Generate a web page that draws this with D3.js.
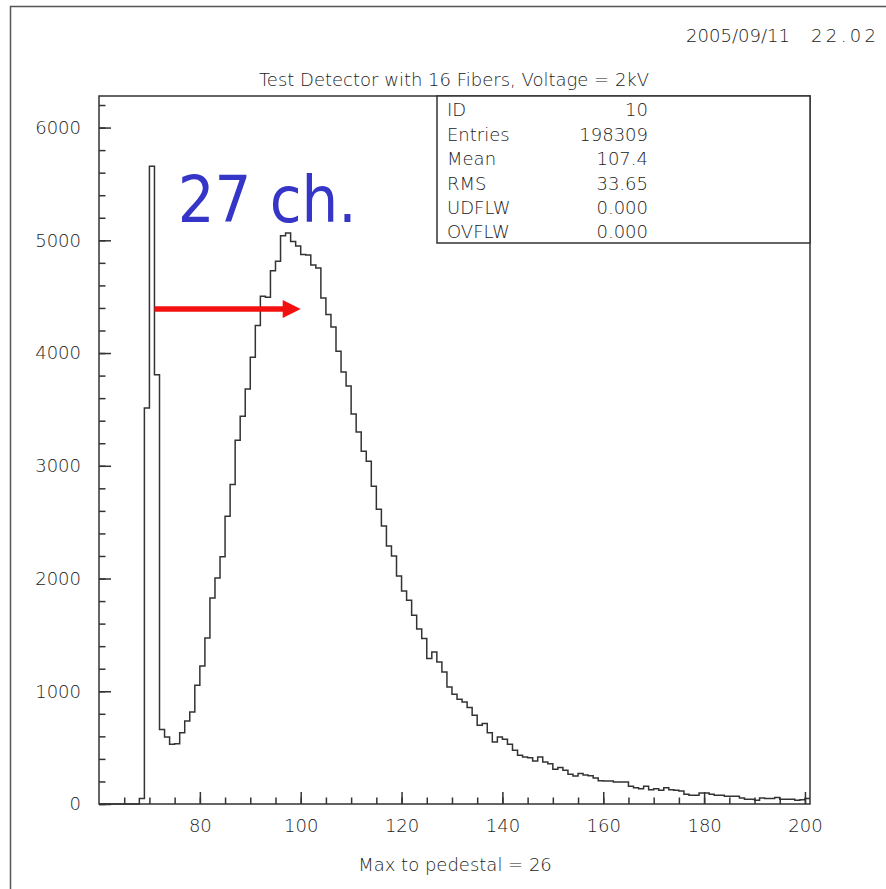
<!DOCTYPE html>
<html>
<head>
<meta charset="utf-8">
<script src="https://cdn.jsdelivr.net/npm/d3@7"></script>
<style>
  body { margin: 0; background: #fff; }
  svg text { font-family: "DejaVu Sans", sans-serif; font-weight: 200; fill: #222; }
</style>
</head>
<body>
<div id="chart"></div>
<script>
// histogram: one bin per channel, first bin starts at 60
const binStart = 60
const binWidth = 1
const counts = [
  0, 0, 0, 0, 0, 0, 0, 0, 48, 3512, 5656, 3808,
  660, 594, 530, 535, 633, 736, 816, 1053, 1224, 1472, 1827, 2005, 2194, 2552, 2833,
  3226, 3439, 3682, 3962, 4245, 4504, 4495, 4730, 4815, 5040, 5064, 4990, 4950,
  4875, 4870, 4780, 4755, 4488, 4343, 4231, 4015, 3832, 3707, 3460, 3300, 3130, 3040,
  2818, 2614, 2466, 2288, 2200, 2022, 1889, 1807, 1674, 1552, 1468, 1290, 1348, 1259,
  1171, 1038, 973, 929, 905, 855, 787, 698, 713, 633, 550, 594, 574, 530, 476, 432,
  417, 411, 381, 417, 373, 358, 308, 323, 299, 263, 248, 270, 258, 250, 230, 207,
  204, 204, 195, 195, 195, 157, 145, 136, 157, 127, 136, 121, 145, 127, 121, 115,
  86, 77, 77, 97, 97, 86, 77, 77, 68, 68, 68, 53, 42, 42, 33, 53, 48, 48, 57, 42,
  42, 42, 33, 38, 48,
]

const xMajorTicks = [80, 100, 120, 140, 160, 180, 200]
const xMinorTicks = d3.range(65, 201, 5)
const yMajorTicks = [0, 1000, 2000, 3000, 4000, 5000, 6000]
const yMinorTicks = d3.range(0, 6201, 200)

const statLabels = ['ID', 'Entries', 'Mean', 'RMS', 'UDFLW', 'OVFLW']
const statValues = ['10', '198309', '107.4', '33.65', '0.000', '0.000']

const title = 'Test Detector with 16 Fibers, Voltage = 2kV'
const xTitle = 'Max to pedestal = 26'
const dateText = ['2005/09/11', '22.02']

// annotation, in data units
const arrowFrom = [71, 4390]
const arrowTo = [100, 4390]
const noteText = '27 ch.'
const notePos = [75.6, 5160]

const width = 886
const height = 889
const margin = {top: 96, right: 76, bottom: 85, left: 99}
const plotW = width - margin.left - margin.right
const plotH = height - margin.top - margin.bottom

const svg = d3.select('#chart').append('svg')
  .attr('width', width)
  .attr('height', height)

// page border (only left and top visible)
svg.append('path')
  .attr('d', 'M10.5,889V6.5H886')
  .attr('fill', 'none')
  .attr('stroke', '#555')
  .attr('stroke-width', 1.5)

const x = d3.scaleLinear()
  .domain([binStart, binStart + counts.length * binWidth])
  .range([0, plotW])
const y = d3.scaleLinear()
  .domain([0, 6280])
  .range([plotH, 0])

const g = svg.append('g')
  .attr('transform', `translate(${margin.left},${margin.top})`)

// histogram outline
const points = counts.map((c, i) => [binStart + i * binWidth, c])
points.push([binStart + counts.length * binWidth, counts[counts.length - 1]])
const line = d3.line()
  .x(d => x(d[0]))
  .y(d => y(d[1]))
  .curve(d3.curveStepAfter)
g.append('path')
  .datum(points)
  .attr('d', line)
  .attr('fill', 'none')
  .attr('stroke', '#333')
  .attr('stroke-width', 1.5)

// axes, ticks pointing inward
function styleAxis(sel) {
  sel.select('.domain').remove()
  sel.selectAll('line').attr('stroke', '#333').attr('stroke-width', 1.5)
  sel.selectAll('text').attr('font-size', 18).attr('fill', null)
}

g.append('g')
  .attr('transform', `translate(0,${plotH})`)
  .call(d3.axisBottom(x).tickValues(xMinorTicks).tickSize(-6.5).tickFormat(''))
  .call(styleAxis)
g.append('g')
  .attr('transform', `translate(0,${plotH})`)
  .call(d3.axisBottom(x).tickValues(xMajorTicks).tickSize(-12).tickPadding(15).tickFormat(d3.format('d')))
  .call(styleAxis)

g.append('g')
  .call(d3.axisLeft(y).tickValues(yMinorTicks).tickSize(-6.5).tickFormat(''))
  .call(styleAxis)
g.append('g')
  .call(d3.axisLeft(y).tickValues(yMajorTicks).tickSize(-12).tickPadding(18).tickFormat(d3.format('d')))
  .call(styleAxis)

// frame
g.append('rect')
  .attr('width', plotW)
  .attr('height', plotH)
  .attr('fill', 'none')
  .attr('stroke', '#333')
  .attr('stroke-width', 1.5)

// statistics box
const boxX = 437 - margin.left
const boxH = 147
g.append('rect')
  .attr('x', boxX)
  .attr('y', 0)
  .attr('width', plotW - boxX)
  .attr('height', boxH)
  .attr('fill', '#fff')
  .attr('stroke', '#333')
  .attr('stroke-width', 1.5)
const rowH = 24.4
const stats = g.append('g').attr('class', 'stats')
stats.selectAll('text.label')
  .data(statLabels)
  .enter().append('text')
  .attr('class', 'label')
  .attr('x', boxX + 10)
  .attr('y', (d, i) => 14 + i * rowH)
  .attr('dy', '0.35em')
  .attr('font-size', 18)
  .text(d => d)
stats.selectAll('text.value')
  .data(statValues)
  .enter().append('text')
  .attr('class', 'value')
  .attr('x', 648 - margin.left)
  .attr('y', (d, i) => 14 + i * rowH)
  .attr('dy', '0.35em')
  .attr('font-size', 18)
  .attr('text-anchor', 'end')
  .text(d => d)

// titles
svg.append('text')
  .attr('x', 454)
  .attr('y', 86)
  .attr('text-anchor', 'middle')
  .attr('font-size', 18)
  .text(title)
svg.append('text')
  .attr('x', 455)
  .attr('y', 871)
  .attr('text-anchor', 'middle')
  .attr('font-size', 18)
  .text(xTitle)
svg.append('text')
  .attr('x', 686)
  .attr('y', 42)
  .attr('font-size', 18)
  .attr('textLength', 104)
  .text(dateText[0])
svg.append('text')
  .attr('x', 811)
  .attr('y', 42)
  .attr('font-size', 18)
  .attr('textLength', 65)
  .text(dateText[1])

// red arrow
const ay = y(arrowFrom[1])
const headLen = 18
svg.append('g')
  .attr('transform', `translate(${margin.left},${margin.top})`)
  .call(a => {
    a.append('line')
      .attr('x1', x(arrowFrom[0]))
      .attr('x2', x(arrowTo[0]) - headLen + 1)
      .attr('y1', ay)
      .attr('y2', ay)
      .attr('stroke', '#f21010')
      .attr('stroke-width', 5.5)
    a.append('path')
      .attr('d', `M${x(arrowTo[0])},${ay}L${x(arrowTo[0]) - headLen},${ay - 9}L${x(arrowTo[0]) - headLen},${ay + 9}Z`)
      .attr('fill', '#f21010')
  })

// blue note
svg.append('text')
  .attr('x', margin.left + x(notePos[0]))
  .attr('y', margin.top + y(notePos[1]))
  .attr('font-family', '"Open Sans", sans-serif')
  .attr('font-size', 64)
  .attr('textLength', 179)
  .attr('lengthAdjust', 'spacingAndGlyphs')
  .style('font-weight', 400)
  .style('fill', '#3535c8')
  .text(noteText)
</script>
</body>
</html>
